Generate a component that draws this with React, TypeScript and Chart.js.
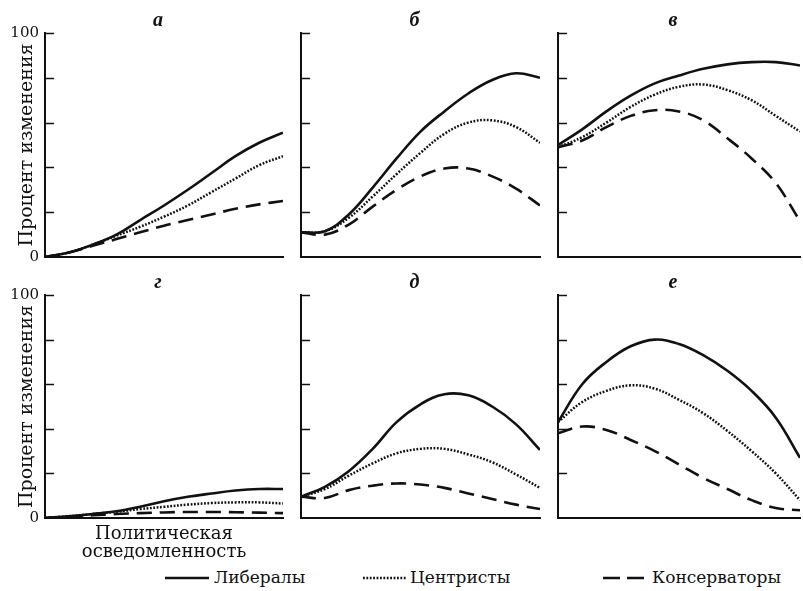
import React, { useEffect, useRef } from "react";
import { Chart, registerables } from "chart.js";
Chart.register(...registerables);

// ---- data ----
const awareness = [0, 10, 20, 30, 40, 50, 60, 70, 80, 90, 100];
const yTicks = [0, 20, 40, 60, 80, 100];
const panelLetters = ["а", "б", "в", "г", "д", "е"];
const seriesNames = ["Либералы", "Центристы", "Консерваторы"];
const yAxisTitle = "Процент изменения";
const xAxisTitle = ["Политическая", "осведомленность"];

const libA = [0, 2, 5.5, 10, 16.5, 23, 30, 37.5, 45, 51, 55.5];
const cenA = [0, 2, 5.5, 9.5, 13.5, 18, 23, 29, 35, 41, 45];
const conA = [0, 2, 5, 8, 11, 14, 16.5, 19, 21.5, 23.5, 25];

const libB = [11, 11.5, 19, 31, 44, 56, 65, 73, 79, 82, 80];
const cenB = [11, 11.5, 17.5, 27, 37, 46.5, 55, 60, 61, 58, 51];
const conB = [11, 10, 14.5, 22.5, 30, 36, 39.5, 39.5, 36, 30.5, 23];

const libC = [50, 57, 65, 72, 77.5, 81, 84, 86, 87, 87, 85.5];
const cenC = [49, 53.5, 60, 67, 72.5, 76, 77, 74.5, 70, 63, 56];
const conC = [49, 52, 58, 63, 65.5, 65, 61, 53, 44, 33, 16];

const libD = [0, 0.8, 1.8, 3, 5, 7.5, 9.5, 11, 12.3, 13, 13];
const cenD = [0, 0.8, 1.8, 2.8, 4, 5, 6, 6.7, 7, 7, 6.5];
const conD = [0, 0.6, 1.2, 1.8, 2.2, 2.5, 2.7, 2.7, 2.6, 2.4, 2.2];

const libE = [9.5, 14, 21, 31, 43, 51, 55.5, 55, 50, 42, 30.5];
const cenE = [9.5, 13, 19, 24.5, 29, 31, 31, 28.5, 25, 19.5, 13.5];
const conE = [9.5, 9, 12.5, 14.5, 15.5, 15, 13.5, 11, 8.5, 6, 4];

const libF = [43, 60, 70, 77, 80, 78, 73, 66, 57, 45, 27];
const cenF = [43, 52, 57, 59.5, 58, 53, 47, 39, 30, 20, 8];
const conF = [38, 41, 39.5, 35, 30, 24, 18, 13, 8, 4.5, 3.5];

const INK = "#111";
const SERIF = "'DejaVu Serif', serif";

type Panel = {
  letter: string;
  series: number[][];
  left: number;
  top: number;
  width: number;
  height: number;
  yw: number;
  xh: number;
  pt: number;
  leftCol: boolean;
  xTitle: boolean;
};

const panels: Panel[] = [
  { letter: panelLetters[0], series: [libA, cenA, conA], left: 0, top: 0, width: 285, height: 277, yw: 45, xh: 20, pt: 33, leftCol: true, xTitle: false },
  { letter: panelLetters[1], series: [libB, cenB, conB], left: 295, top: 0, width: 247, height: 277, yw: 6, xh: 20, pt: 33, leftCol: false, xTitle: false },
  { letter: panelLetters[2], series: [libC, cenC, conC], left: 552, top: 0, width: 250, height: 277, yw: 6, xh: 20, pt: 33, leftCol: false, xTitle: false },
  { letter: panelLetters[3], series: [libD, cenD, conD], left: 0, top: 270, width: 285, height: 293, yw: 45, xh: 45, pt: 25, leftCol: true, xTitle: true },
  { letter: panelLetters[4], series: [libE, cenE, conE], left: 295, top: 270, width: 247, height: 293, yw: 6, xh: 45, pt: 25, leftCol: false, xTitle: false },
  { letter: panelLetters[5], series: [libF, cenF, conF], left: 552, top: 270, width: 250, height: 293, yw: 6, xh: 45, pt: 25, leftCol: false, xTitle: false },
];

const styles = [
  { borderWidth: 2.6, borderDash: [] as number[] },
  { borderWidth: 2.5, borderDash: [1.8, 1.6] },
  { borderWidth: 2.6, borderDash: [15, 8] },
];

const panelDecor = {
  id: "panelDecor",
  afterDraw(chart: any, _args: any, opts: any) {
    const { ctx, chartArea, scales } = chart;
    const y = scales.y;
    ctx.save();
    ctx.strokeStyle = INK;
    ctx.lineWidth = 1.5;
    yTicks.forEach((v) => {
      if (v === 0) return;
      const py = Math.round(y.getPixelForValue(v)) + 0.5;
      ctx.beginPath();
      ctx.moveTo(chartArea.left, py);
      ctx.lineTo(chartArea.left + 9, py);
      ctx.stroke();
    });
    ctx.fillStyle = INK;
    ctx.font = "bold italic 20px 'Liberation Serif', serif";
    ctx.textAlign = "center";
    ctx.textBaseline = "alphabetic";
    ctx.fillText(opts.letter, (chartArea.left + chartArea.right) / 2 - 6, chartArea.top - 7);
    ctx.restore();
  },
};

function PanelChart({ p }: { p: Panel }) {
  const ref = useRef<HTMLCanvasElement>(null);
  useEffect(() => {
    if (!ref.current) return;
    const chart = new Chart(ref.current, {
      type: "line",
      data: {
        datasets: p.series.map((vals, i) => ({
          label: seriesNames[i],
          data: awareness.map((x, j) => ({ x, y: vals[j] })),
          borderColor: INK,
          backgroundColor: INK,
          borderWidth: styles[i].borderWidth,
          borderDash: styles[i].borderDash,
          pointRadius: 0,
          tension: 0.4,
          fill: false,
        })),
      },
      options: {
        animation: false,
        responsive: false,
        devicePixelRatio: 1,
        layout: { padding: { top: p.pt, right: 2, bottom: 0, left: 0 } },
        plugins: {
          legend: { display: false },
          tooltip: { enabled: false },
          title: { display: false },
          panelDecor: { letter: p.letter },
        } as any,
        scales: {
          x: {
            type: "linear",
            min: 0,
            max: 100,
            grid: { display: false, drawTicks: false },
            ticks: { display: false },
            border: { display: true, color: INK, width: 2 },
            title: {
              display: p.xTitle,
              text: xAxisTitle,
              color: INK,
              font: { family: SERIF, size: 18, lineHeight: 1.0 },
              padding: { top: 0, bottom: 2 },
            },
            afterFit: (s: any) => {
              s.height = p.xh;
            },
          },
          y: {
            type: "linear",
            min: 0,
            max: 100,
            afterBuildTicks: (s: any) => {
              s.ticks = yTicks.map((v) => ({ value: v }));
            },
            grid: { display: false, drawTicks: false },
            ticks: {
              display: p.leftCol,
              autoSkip: false,
              padding: 6,
              color: INK,
              font: { family: SERIF, size: 15 },
              callback: (v: any) => (v === 0 || v === 100 ? String(v) : ""),
            },
            border: { display: true, color: INK, width: 2 },
            title: {
              display: p.leftCol,
              text: yAxisTitle,
              color: INK,
              font: { family: SERIF, size: 19, lineHeight: 1.2 },
              padding: { top: 16, bottom: 0 },
            },
            afterFit: (s: any) => {
              s.width = p.yw;
            },
          },
        },
      } as any,
      plugins: [panelDecor],
    });
    return () => chart.destroy();
  }, [p]);
  return (
    <canvas
      ref={ref}
      width={p.width}
      height={p.height}
      style={{ position: "absolute", left: p.left, top: p.top, width: p.width, height: p.height, display: "block" }}
    />
  );
}

function LegendSample({ dash, width }: { dash: string; width: number }) {
  return (
    <svg width={44} height={8} style={{ display: "block" }}>
      <line x1={0} y1={4} x2={44} y2={4} stroke={INK} strokeWidth={width} strokeDasharray={dash} />
    </svg>
  );
}

export default function App() {
  const legendItems = [
    { name: seriesNames[0], dash: "", width: 2.5, sx: 165, tx: 214 },
    { name: seriesNames[1], dash: "1.8 1.6", width: 2.3, sx: 363, tx: 410 },
    { name: seriesNames[2], dash: "17 7", width: 2.5, sx: 603, tx: 652 },
  ];
  return (
    <div style={{ position: "absolute", left: 0, top: 0, width: 803, height: 591, background: "#fff", overflow: "hidden" }}>
      {panels.map((p, i) => (
        <PanelChart key={i} p={p} />
      ))}
      {legendItems.map((it, i) => (
        <React.Fragment key={i}>
          <div style={{ position: "absolute", left: it.sx, top: 574 }}>
            <LegendSample dash={it.dash} width={it.width} />
          </div>
          <div
            style={{
              position: "absolute",
              left: it.tx,
              top: 566,
              fontFamily: SERIF,
              fontSize: 17,
              lineHeight: "22px",
              color: INK,
              whiteSpace: "nowrap",
            }}
          >
            {it.name}
          </div>
        </React.Fragment>
      ))}
    </div>
  );
}
